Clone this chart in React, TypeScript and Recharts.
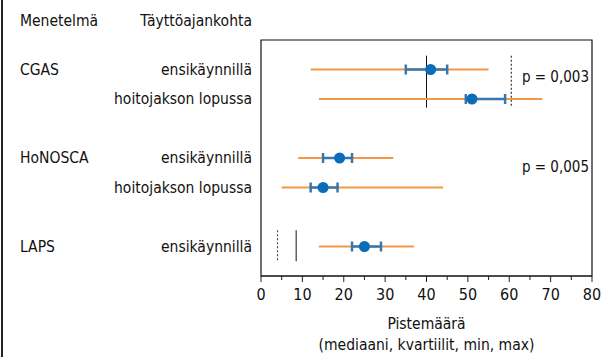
import {
  ScatterChart,
  Scatter,
  XAxis,
  YAxis,
  ErrorBar,
  ReferenceLine,
  ReferenceArea,
} from "recharts";

const methods = ["CGAS", "CGAS", "HoNOSCA", "HoNOSCA", "LAPS"];
const timepoints = [
  "ensikäynnillä",
  "hoitojakson lopussa",
  "ensikäynnillä",
  "hoitojakson lopussa",
  "ensikäynnillä",
];
const groupIndex = [0, 0, 1, 1, 2];
const mins = [12, 14, 9, 5, 14];
const q1s = [35, 49.5, 15, 12, 22];
const medians = [41, 51, 19, 15, 25];
const q3s = [45, 59, 22, 18.5, 29];
const maxs = [55, 68, 32, 44, 37];

const xTicks = [0, 5, 10, 15, 20, 25, 30, 35, 40, 45, 50, 55, 60, 65, 70, 75, 80];

// viitearvot (normiraja ja leikkauspiste)
const cgasSolid = 40;
const cgasDashed = 60.5;
const lapsDashed = 4;
const lapsSolid = 8.5;

const pValues = ["p = 0,003", "p = 0,005"];

const FONT = '"Liberation Sans Narrow", "Arial Narrow", "DejaVu Sans Condensed", sans-serif';
const ORANGE = "#F39843";
const BLUE = "#0B6DBA";

const rows = medians.map((m, i) => ({
  x: m,
  y: i + groupIndex[i],
  range: [m - mins[i], maxs[i] - m],
  iqr: [m - q1s[i], q3s[i] - m],
  method: i === 0 || methods[i] !== methods[i - 1] ? methods[i] : "",
  time: timepoints[i],
}));

const RowTick = (props: any) => {
  const row = rows.find((r) => r.y === props.payload.value);
  if (!row) return null;
  return (
    <g fontFamily={FONT} fontSize={15.5} fill="#111">
      <text x={20} y={props.y} dominantBaseline="central">
        {row.method}
      </text>
      <text x={252} y={props.y} textAnchor="end" dominantBaseline="central">
        {row.time}
      </text>
    </g>
  );
};

const XTick = (props: any) => {
  const v = props.payload.value;
  const major = v % 10 === 0;
  return (
    <g>
      <line x1={props.x} x2={props.x} y1={props.y} y2={props.y + (major ? 6 : 4)} stroke="#222" />
      {major && (
        <text
          x={props.x}
          y={props.y + 18}
          textAnchor="middle"
          dominantBaseline="central"
          fontFamily={FONT}
          fontSize={16}
          fill="#111"
        >
          {v}
        </text>
      )}
    </g>
  );
};

const Dot = (p: any) => <circle cx={p.cx} cy={p.cy} r={5.5} fill={BLUE} />;

export default function App() {
  return (
    <div
      style={{
        position: "absolute",
        left: 0,
        top: 0,
        width: 603,
        height: 357,
        background: "#fff",
        fontFamily: FONT,
        color: "#111",
      }}
    >
      <div style={{ position: "absolute", left: 1, top: 0, width: 2, height: 357, background: "#222" }} />
      <div style={{ position: "absolute", left: 20, top: 12, fontSize: 15.5 }}>Menetelmä</div>
      <div style={{ position: "absolute", right: 603 - 252, top: 12, fontSize: 15.5 }}>Täyttöajankohta</div>
      <ScatterChart width={603} height={357} margin={{ top: 40, right: 11, bottom: 51, left: 20 }}>
        <ReferenceArea x1={0} x2={80} y1={-1} y2={7} fill="none" stroke="#111" strokeWidth={1.2} />
        <XAxis
          type="number"
          dataKey="x"
          domain={[0, 80]}
          ticks={xTicks}
          interval={0}
          height={30}
          tickLine={false}
          tickSize={0}
          tickMargin={0}
          axisLine={{ stroke: "#111" }}
          tick={<XTick />}
        />
        <YAxis
          type="number"
          dataKey="y"
          domain={[-1, 7]}
          reversed
          ticks={[0, 1, 3, 4, 6]}
          interval={0}
          width={241}
          axisLine={false}
          tickLine={false}
          tick={<RowTick />}
        />
        <ReferenceLine segment={[{ x: cgasSolid, y: -0.47 }, { x: cgasSolid, y: 1.29 }]} stroke="#111" />
        <ReferenceLine
          segment={[{ x: cgasDashed, y: -0.47 }, { x: cgasDashed, y: 1.29 }]}
          stroke="#444"
          strokeWidth={1.3}
          strokeDasharray="2 2"
        />
        <ReferenceLine
          segment={[{ x: lapsDashed, y: 5.45 }, { x: lapsDashed, y: 6.5 }]}
          stroke="#333"
          strokeDasharray="2 2"
        />
        <ReferenceLine segment={[{ x: lapsSolid, y: 5.45 }, { x: lapsSolid, y: 6.5 }]} stroke="#111" />
        <Scatter data={rows} shape={<Dot />} isAnimationActive={false}>
          <ErrorBar dataKey="range" direction="x" width={0} stroke={ORANGE} strokeWidth={2} />
          <ErrorBar dataKey="iqr" direction="x" width={5} stroke="#3877AC" strokeWidth={2.5} />
        </Scatter>
      </ScatterChart>
      <div style={{ position: "absolute", right: 14, top: 68, fontSize: 15 }}>{pValues[0]}</div>
      <div style={{ position: "absolute", right: 14, top: 158, fontSize: 15 }}>{pValues[1]}</div>
      <div
        style={{
          position: "absolute",
          left: 261,
          width: 331,
          top: 314,
          fontSize: 15.5,
          textAlign: "center",
          lineHeight: "21px",
        }}
      >
        Pistemäärä
        <br />
        (mediaani, kvartiilit, min, max)
      </div>
    </div>
  );
}
